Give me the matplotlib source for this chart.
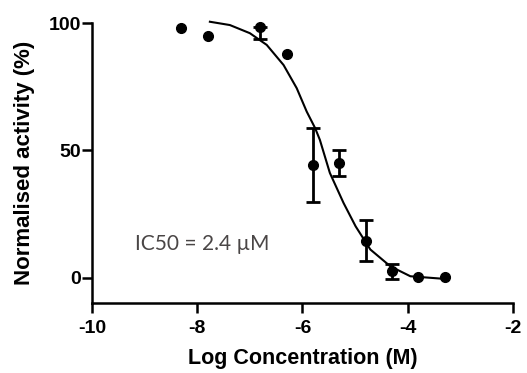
import numpy as np
import matplotlib
matplotlib.use("Agg")
import matplotlib.pyplot as plt

plt.rcParams['font.family'] = ['Liberation Sans', 'DejaVu Sans']
plt.rcParams['axes.unicode_minus'] = False

# measured points (log M, % activity, error below / above)
log_conc = [-8.3, -7.8, -6.8, -6.3, -5.8, -5.3, -4.8, -4.3, -3.8, -3.3]
activity = [97.9, 94.9, 98.6, 87.7, 44.3, 45.0, 14.5, 2.5, 0.1, 0.1]
err_lo = [0, 0, 5.0, 0, 14.6, 5.0, 8.0, 3.0, 0, 0]
err_hi = [0, 0, 0, 0, 14.6, 5.0, 8.0, 3.0, 0, 0]

# fitted curve
fit_x = [-7.76, -7.38, -7.0, -6.68, -6.36, -6.11, -5.92, -5.76, -5.67, -5.48,
         -5.22, -4.99, -4.71, -4.33, -3.95, -3.32]
fit_y = [100.5, 99.2, 96.0, 91.4, 83.5, 74.4, 65.2, 58.7, 54.1, 41.1,
         29.3, 20.1, 11.0, 4.4, 0.5, -0.5]

fig = plt.figure(figsize=(5.27, 3.73), dpi=100)
ax = fig.add_axes([0.1746, 0.1877, 0.7988, 0.7506])

ax.plot(fit_x, fit_y, color='black', lw=1.5, clip_on=False)
ax.plot(log_conc, activity, 'o', color='black', ms=7, clip_on=False)

# error bars only where there is one
has_err = [i for i in range(len(log_conc)) if err_lo[i] > 0]
ax.errorbar([log_conc[i] for i in has_err], [activity[i] for i in has_err],
            yerr=[[err_lo[i] for i in has_err], [err_hi[i] for i in has_err]],
            fmt='none', ecolor='black', elinewidth=2, capsize=5, capthick=2,
            clip_on=False)

ax.text(-9.18, 13.3, "IC50 = 2.4 µM", fontsize=15, color='#4a4646',
        va='center', family=['Lato', 'DejaVu Sans'])

ax.set_xlim(-10, -2)
ax.set_ylim(-10, 100)
ax.set_xticks([-10, -8, -6, -4, -2])
ax.set_yticks([0, 50, 100])
for s in ['top', 'right']:
    ax.spines[s].set_visible(False)
for s in ['left', 'bottom']:
    ax.spines[s].set_linewidth(1.8)
ax.tick_params(width=1.8, length=7, labelsize=14, pad=1)
ax.tick_params(axis='x', pad=5)
for lab in ax.get_xticklabels() + ax.get_yticklabels():
    lab.set_fontweight('bold')

ax.set_xlabel("Log Concentration (M)", fontsize=15.5, fontweight='bold', labelpad=8)
ax.set_ylabel("Normalised activity (%)", fontsize=16, fontweight='bold', labelpad=10)

fig.savefig("out.png", dpi=100)
